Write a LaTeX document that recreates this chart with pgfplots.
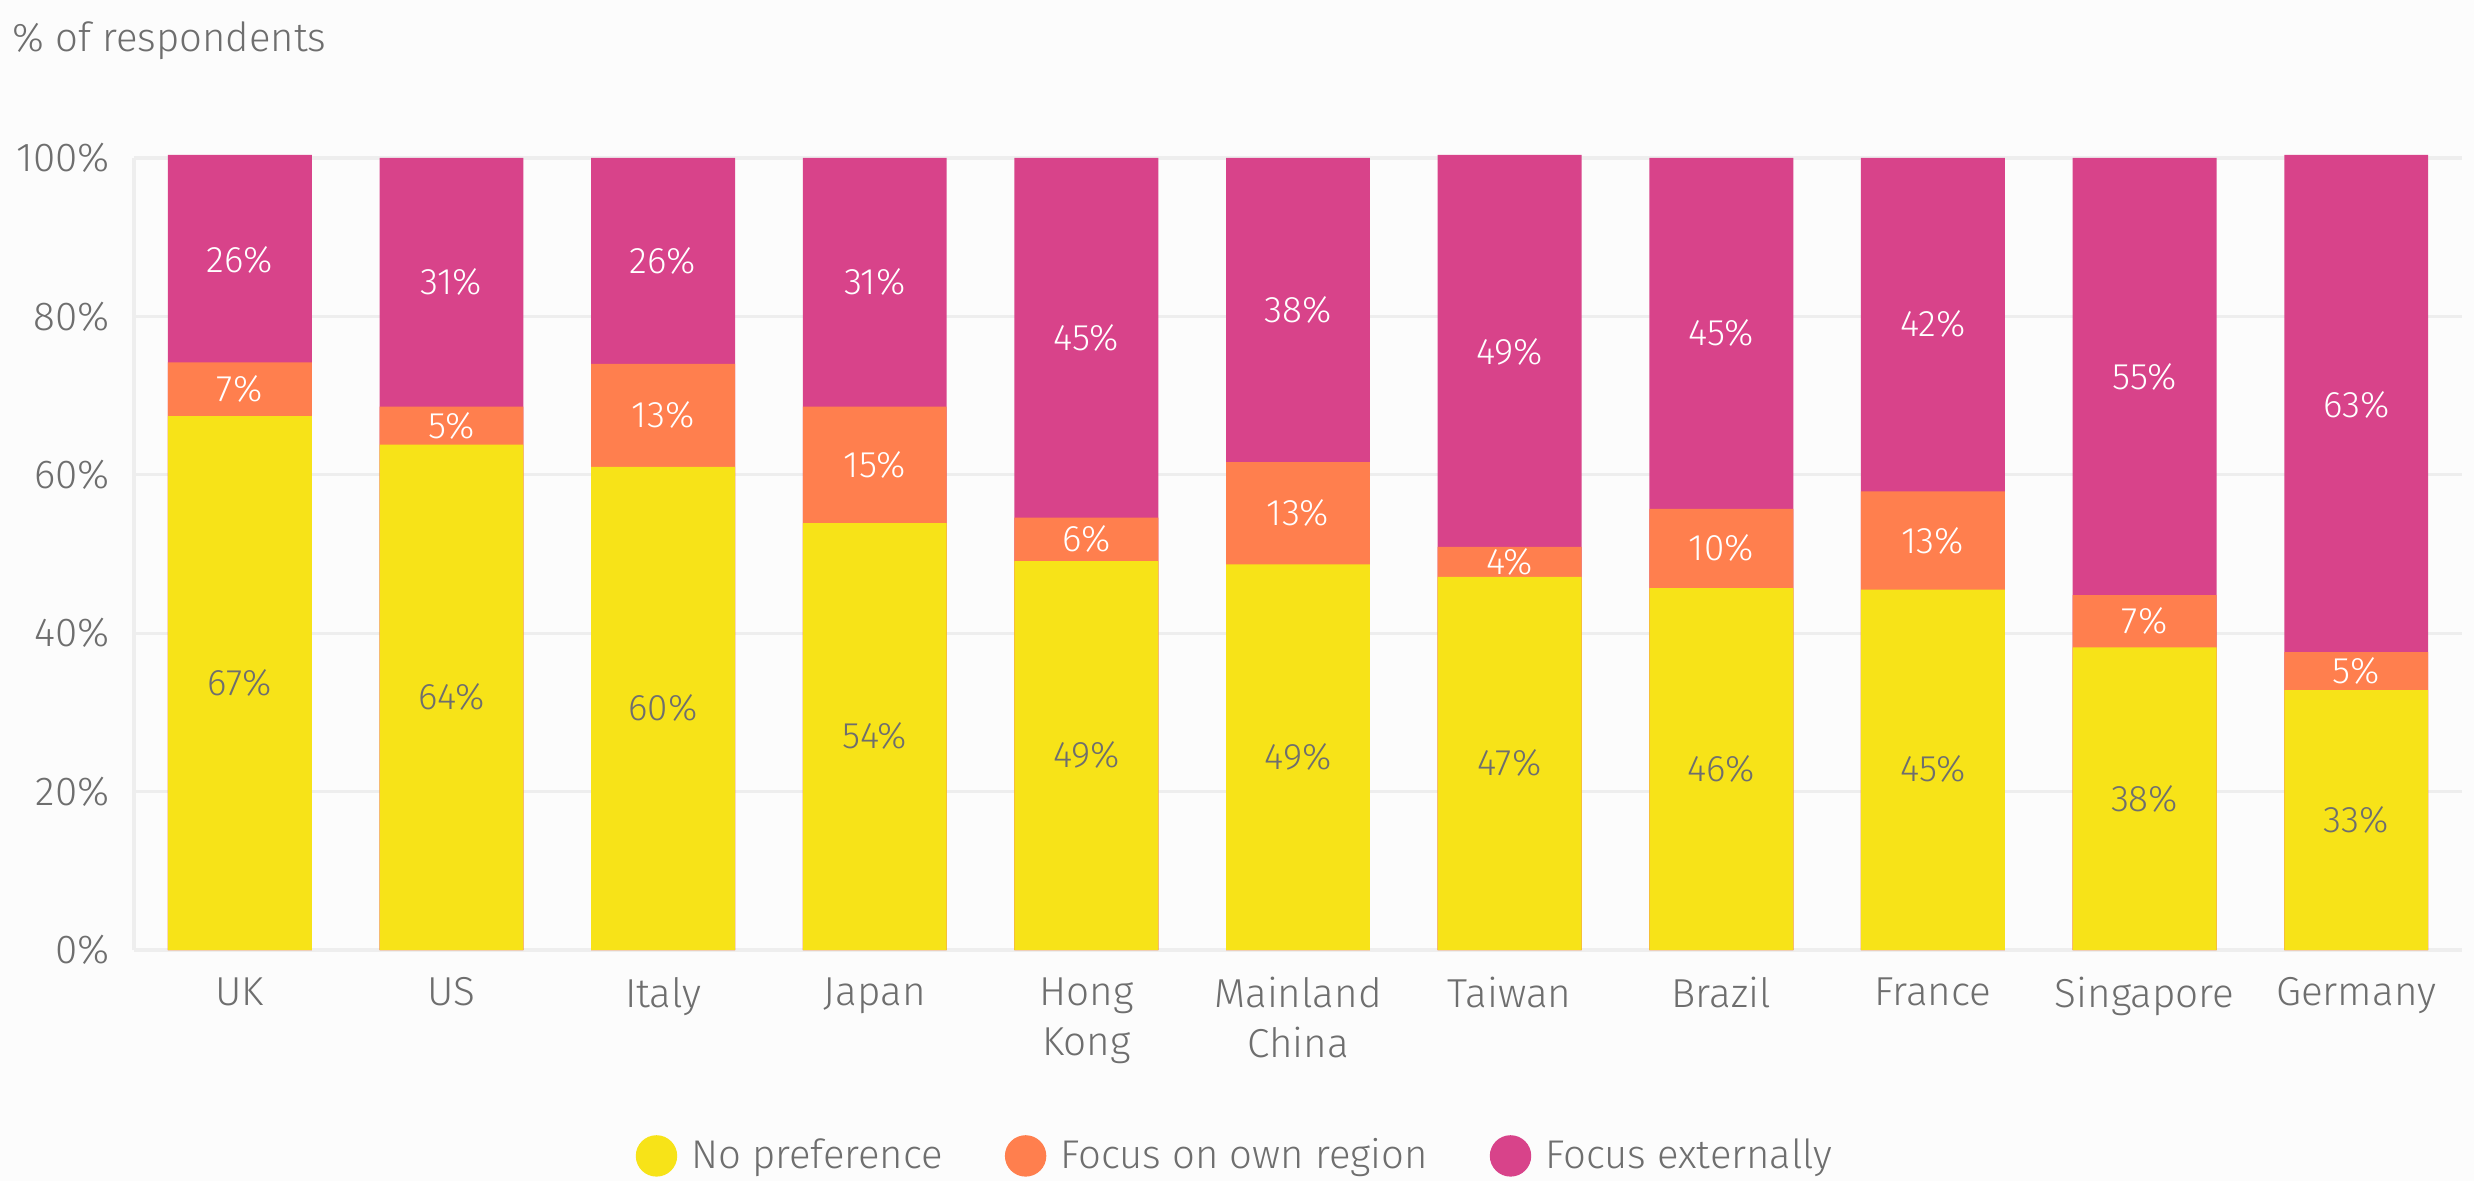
\documentclass[border=0pt]{standalone}
\usepackage{pgfplots}
\pgfplotsset{compat=1.18}
\usepackage{fontspec}
\setmainfont{Fira Sans Light}

\definecolor{nopref}{HTML}{F7E318}
\definecolor{ownreg}{HTML}{FF7F4E}
\definecolor{extern}{HTML}{D8438A}
\definecolor{txt}{HTML}{6E6E6E}
\definecolor{gridc}{HTML}{EEEEEE}
\definecolor{bg}{HTML}{FCFCFC}

\pgfplotsset{
  /pgf/number format/assume math mode=true,
  barstyle/.style={ybar, bar width=0.68, bar shift=0pt, draw=none, forget plot},
  lblstyle/.style={draw=none, mark=none, forget plot, point meta=explicit,
    nodes near coords={\pgfmathprintnumber{\pgfplotspointmeta}\%},
    nodes near coords align=center,
    every node near coord/.append style={text=#1, font=\fontsize{10.5}{12}\selectfont, anchor=center}},
}

\begin{document}
\begin{tikzpicture}
\fill[bg] (0,0) rectangle (24.74,11.81);
\path[use as bounding box] (0,0) rectangle (24.74,11.81);
\node[anchor=base west, text=txt, font=\fontsize{11.4}{14}\selectfont, inner sep=0pt] at (0.12,11.29) {\% of respondents};

\begin{axis}[
  at={(1.34cm,2.31cm)}, anchor=south west,
  scale only axis, width=23.28cm, height=7.92cm,
  xmin=-0.5, xmax=10.5, ymin=0, ymax=100,
  axis x line*=bottom, axis y line*=left,
  axis line style={draw=gridc, line width=0.9pt, -},
  ymajorgrids, grid style={draw=gridc, line width=0.9pt},
  major tick length=0pt,
  ytick={0,20,...,100},
  yticklabel={\pgfmathprintnumber{\tick}\%},
  yticklabel style={text=txt, font=\fontsize{11.5}{14}\selectfont, xshift=-0.12cm},
  xtick={0,...,10},
  xticklabels={UK,US,Italy,Japan,{Hong\\Kong},{Mainland\\China},Taiwan,Brazil,France,Singapore,Germany},
  xticklabel style={text=txt, align=center, font=\fontsize{11.5}{14.2}\selectfont, anchor=north, yshift=-0.15cm},
  clip=false,
  legend columns=3,
  legend style={at={(0.474,-0.26)}, anchor=center, draw=none, fill=none, text=txt,
    font=\fontsize{11.4}{14}\selectfont,
    /tikz/every even column/.append style={column sep=0.55cm}},
  legend cell align=left,
]
% Focus externally (top of stack)
\addplot[barstyle, fill=extern] coordinates {(0,100.4) (1,100) (2,100) (3,100) (4,100) (5,100) (6,100.4) (7,100) (8,100) (9,100) (10,100.4)};
% Focus on own region (cumulative top)
\addplot[barstyle, fill=ownreg] coordinates {(0,74.2) (1,68.6) (2,74.0) (3,68.6) (4,54.6) (5,61.6) (6,50.9) (7,55.7) (8,57.9) (9,44.8) (10,37.6)};
% No preference
\addplot[barstyle, fill=nopref] coordinates {(0,67.4) (1,63.8) (2,61.0) (3,53.9) (4,49.1) (5,48.7) (6,47.1) (7,45.7) (8,45.5) (9,38.2) (10,32.8)};

% segment labels
\addplot[lblstyle=txt] coordinates {(0,33.7) [67] (1,31.9) [64] (2,30.5) [60] (3,27.0) [54] (4,24.6) [49] (5,24.4) [49] (6,23.6) [47] (7,22.9) [46] (8,22.8) [45] (9,19.1) [38] (10,16.4) [33]};
\addplot[lblstyle=white] coordinates {(0,70.8) [7] (1,66.2) [5] (2,67.5) [13] (3,61.3) [15] (4,51.9) [6] (5,55.2) [13] (6,49.0) [4] (7,50.7) [10] (8,51.7) [13] (9,41.5) [7] (10,35.2) [5]};
\addplot[lblstyle=white] coordinates {(0,87.1) [26] (1,84.3) [31] (2,87.0) [26] (3,84.3) [31] (4,77.3) [45] (5,80.8) [38] (6,75.5) [49] (7,77.9) [45] (8,79.0) [42] (9,72.4) [55] (10,68.8) [63]};

\addlegendimage{legend image code/.code={\fill[nopref] (0.2cm,0cm) circle (0.2cm); \path (0.47cm,0cm);}}
\addlegendentry{No preference}
\addlegendimage{legend image code/.code={\fill[ownreg] (0.2cm,0cm) circle (0.2cm); \path (0.47cm,0cm);}}
\addlegendentry{Focus on own region}
\addlegendimage{legend image code/.code={\fill[extern] (0.2cm,0cm) circle (0.2cm); \path (0.47cm,0cm);}}
\addlegendentry{Focus externally}
\end{axis}
\end{tikzpicture}
\end{document}
